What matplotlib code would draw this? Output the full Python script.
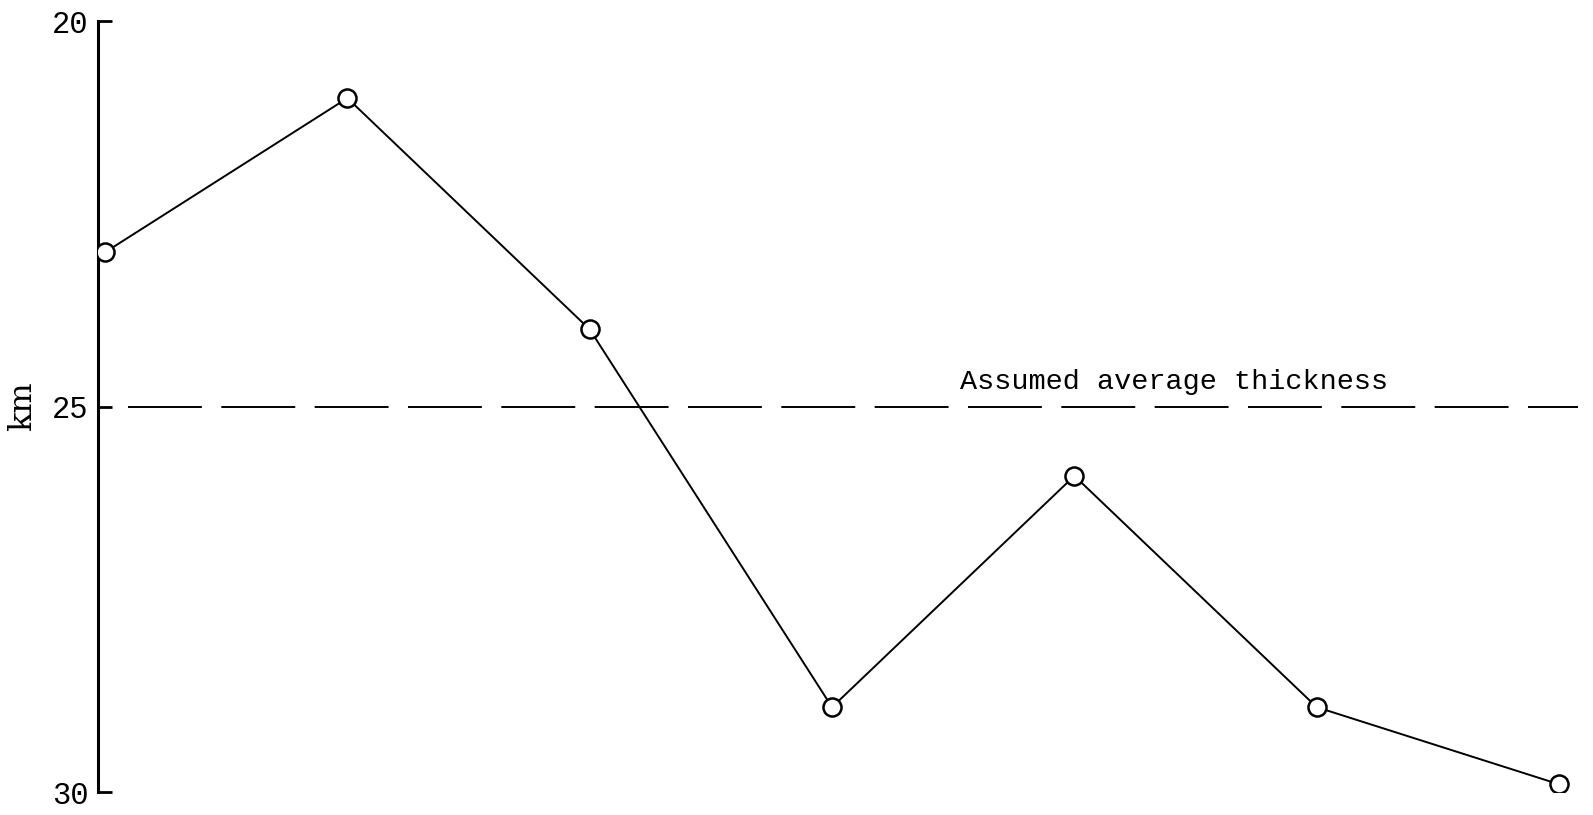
import numpy as np
import matplotlib.pyplot as plt

# data
station = [0, 1, 2, 3, 4, 5, 6]
thickness_km = [23.0, 21.0, 24.0, 28.9, 25.9, 28.9, 29.9]
avg_thickness = 25.0
avg_label = "Assumed average thickness"
yticks = [20, 25, 30]
ytick_labels = ["20", "25", "30"]

fig = plt.figure(figsize=(15.93, 8.15), dpi=100)
fig.set_facecolor('white')
ax = fig.add_axes([98 / 1593, 23 / 815, 1495 / 1593, 771 / 815])

ax.plot(station, thickness_km, color='black', linewidth=1.4,
        marker='o', markersize=13, markerfacecolor='white',
        markeredgecolor='black', markeredgewidth=1.8, zorder=3)

# average thickness reference line
ax.axhline(avg_thickness, xmin=0.02, xmax=0.99, color='black',
           linewidth=1.4, dashes=(38, 10))
ax.text(3.53, avg_thickness - 0.15, avg_label, family='Liberation Mono',
        fontsize=20.5, ha='left', va='bottom')

ax.set_xlim(-0.029, 6.14)
ax.set_ylim(30, 20)
ax.set_yticks(yticks)
ax.set_yticklabels(ytick_labels, family='Liberation Mono', fontsize=22)
ax.set_xticks([])

for side in ['top', 'right', 'bottom']:
    ax.spines[side].set_visible(False)
ax.spines['left'].set_linewidth(2.2)
ax.tick_params(axis='y', direction='in', length=10, width=2, pad=7)

ax.set_ylabel("km", family='DejaVu Serif', fontsize=23, labelpad=10)

fig.savefig('out.png', dpi=100, facecolor='white')
